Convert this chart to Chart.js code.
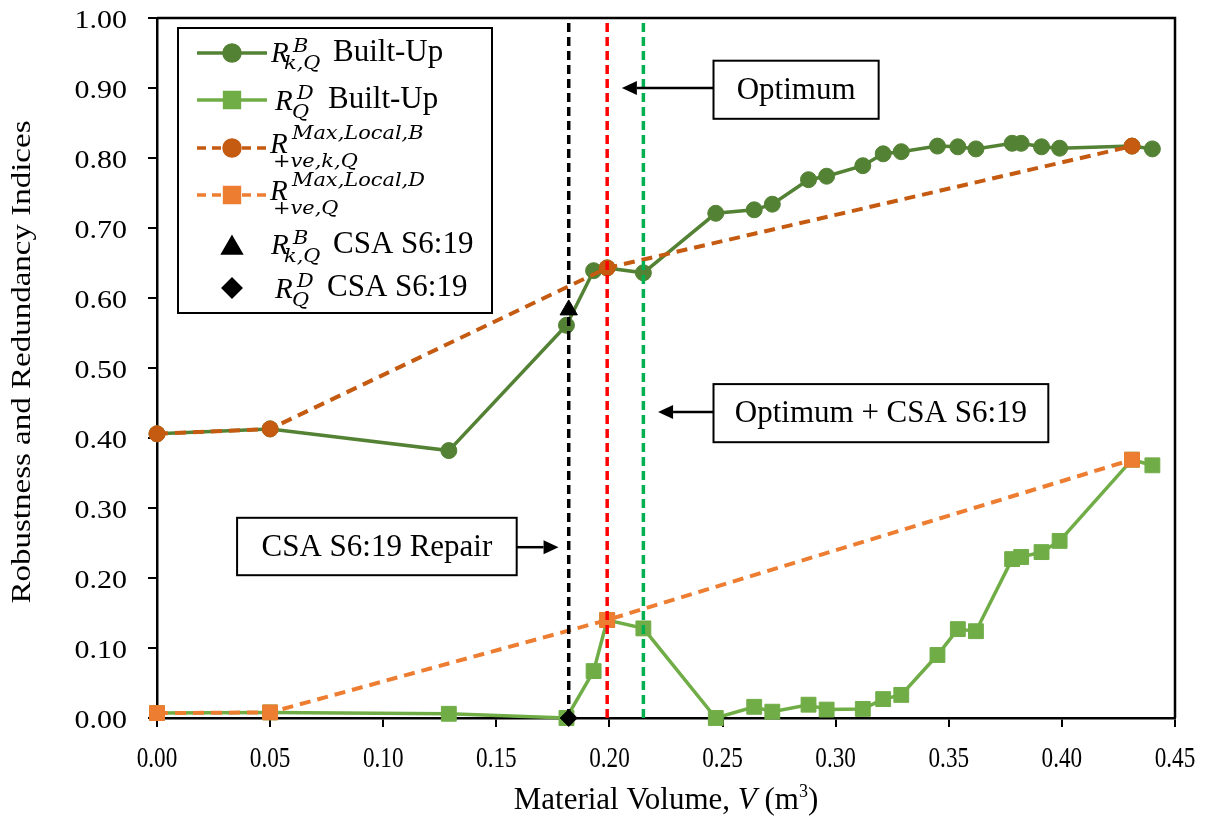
<!DOCTYPE html>
<html>
<head>
<meta charset="utf-8">
<script src="https://cdn.jsdelivr.net/npm/chart.js@4.4.1/dist/chart.umd.min.js"></script>
<style>
  html, body { margin: 0; padding: 0; background: #fff; }
  #wrap { width: 1212px; height: 820px; }
</style>
</head>
<body>
<div id="wrap"><canvas id="chart" width="1212" height="820"></canvas></div>
<script>
// ── Data ─────────────────────────────────────────────────────
const volume   = [0.000, 0.050, 0.129, 0.181, 0.193, 0.199, 0.215, 0.247, 0.264, 0.272, 0.288, 0.296,
                  0.312, 0.321, 0.329, 0.345, 0.354, 0.362, 0.378, 0.382, 0.391, 0.399, 0.431, 0.440];
const builtUpB = [0.406, 0.413, 0.382, 0.561, 0.639, 0.643, 0.636, 0.721, 0.726, 0.734, 0.769, 0.774,
                  0.789, 0.806, 0.809, 0.817, 0.816, 0.813, 0.821, 0.821, 0.816, 0.814, 0.817, 0.813];
const builtUpD = [0.007, 0.008, 0.006, 0.000, 0.067, 0.140, 0.128, 0.000, 0.016, 0.009, 0.019, 0.012,
                  0.013, 0.027, 0.033, 0.090, 0.127, 0.124, 0.227, 0.230, 0.237, 0.253, 0.369, 0.361];

const envVolume = [0.000, 0.050, 0.199, 0.431];
const envB      = [0.406, 0.413, 0.643, 0.817];
const envD      = [0.007, 0.008, 0.140, 0.369];

const csaVolume = [0.182];
const csaB      = [0.583];
const csaD      = [0.000];

const repairVolume  = 0.182;
const optimumVolume = 0.199;
const optCsaVolume  = 0.215;

const xTickLabels = ['0.00','0.05','0.10','0.15','0.20','0.25','0.30','0.35','0.40','0.45'];
const yTickLabels = ['0.00','0.10','0.20','0.30','0.40','0.50','0.60','0.70','0.80','0.90','1.00'];

// ── Colours ──────────────────────────────────────────────────
const DARK_GREEN  = '#548235';
const LIGHT_GREEN = '#70AD47';
const DARK_ORANGE = '#C55A11';
const ORANGE      = '#ED7D31';
const SERIF = '"Liberation Serif", "Times New Roman", serif';

const pts = (xs, ys) => xs.map((x, i) => ({ x, y: ys[i] }));
const vline = x => [{ x, y: 0 }, { x, y: 1 }];

// scaled text: the source's axis text is stretched one way or the other
function scaledText(ctx, txt, x, y, font, sx, sy, align) {
  ctx.save();
  ctx.translate(x, y);
  ctx.scale(sx, sy);
  ctx.font = font;
  ctx.textAlign = align;
  ctx.textBaseline = 'alphabetic';
  ctx.fillText(txt, 0, 0);
  ctx.restore();
}

function arrow(ctx, x1, y1, x2, y2) {
  const a = Math.atan2(y2 - y1, x2 - x1), L = 15, W = 7;
  ctx.beginPath();
  ctx.moveTo(x1, y1);
  ctx.lineTo(x2 - L * Math.cos(a), y2 - L * Math.sin(a));
  ctx.stroke();
  ctx.beginPath();
  ctx.moveTo(x2, y2);
  ctx.lineTo(x2 - L * Math.cos(a) + W * Math.sin(a), y2 - L * Math.sin(a) - W * Math.cos(a));
  ctx.lineTo(x2 - L * Math.cos(a) - W * Math.sin(a), y2 - L * Math.sin(a) + W * Math.cos(a));
  ctx.closePath();
  ctx.fill();
}

// ── Decorations: frame, ticks text, titles, callouts, legend ──
const decor = {
  id: 'decor',
  afterDraw(chart) {
    const { ctx, chartArea: ca, scales: { x, y } } = chart;
    ctx.save();
    ctx.fillStyle = '#000';
    ctx.strokeStyle = '#000';

    // plot frame (top + right)
    ctx.lineWidth = 2.5;
    ctx.beginPath();
    ctx.moveTo(ca.left, ca.top); ctx.lineTo(ca.right, ca.top); ctx.lineTo(ca.right, ca.bottom);
    ctx.stroke();

    // tick labels
    xTickLabels.forEach(t => scaledText(ctx, t, x.getPixelForValue(parseFloat(t)), 767, '29px ' + SERIF, 0.8, 1, 'center'));
    yTickLabels.forEach(t => scaledText(ctx, t, 127, y.getPixelForValue(parseFloat(t)) + 10, '30px ' + SERIF, 1, 0.85, 'right'));

    // x title: Material Volume, V (m3)
    const xt = [
      ['Material Volume, ', '31px ' + SERIF, 0],
      ['V', 'italic 31px ' + SERIF, 0],
      [' (m', '31px ' + SERIF, 0],
      ['3', '18px ' + SERIF, -12],
      [')', '31px ' + SERIF, 0],
    ];
    let tw = 0;
    xt.forEach(p => { ctx.font = p[1]; tw += ctx.measureText(p[0]).width; });
    let cx = (ca.left + ca.right) / 2 - tw / 2;
    xt.forEach(p => {
      scaledText(ctx, p[0], cx, 809 + p[2], p[1], 1, 1, 'left');
      ctx.font = p[1]; cx += ctx.measureText(p[0]).width;
    });

    // y title (rotated)
    ctx.save();
    ctx.translate(30, (ca.top + ca.bottom) / 2 - 6);
    ctx.rotate(-Math.PI / 2);
    ctx.scale(1, 0.82);
    ctx.font = '33px ' + SERIF;
    ctx.textAlign = 'center';
    ctx.fillText('Robustness and Redundancy Indices', 0, 0);
    ctx.restore();

    // callout boxes with arrows (value space)
    const boxes = [
      { text: 'Optimum',             x0: 0.246, x1: 0.319, y0: 0.856, y1: 0.939, ay: 0.900, from: 0.246, to: 0.2055 },
      { text: 'Optimum + CSA S6:19', x0: 0.246, x1: 0.394, y0: 0.394, y1: 0.477, ay: 0.437, from: 0.246, to: 0.2215 },
      { text: 'CSA S6:19 Repair',    x0: 0.0354, x1: 0.159, y0: 0.204, y1: 0.286, ay: 0.244, from: 0.159, to: 0.1775 },
    ];
    boxes.forEach(b => {
      const L = x.getPixelForValue(b.x0), R = x.getPixelForValue(b.x1);
      const T = y.getPixelForValue(b.y1), B = y.getPixelForValue(b.y0);
      ctx.fillStyle = '#fff';
      ctx.fillRect(L, T, R - L, B - T);
      ctx.fillStyle = '#000';
      ctx.lineWidth = 2;
      ctx.strokeRect(L, T, R - L, B - T);
      ctx.font = '31px ' + SERIF;
      ctx.textAlign = 'center';
      ctx.textBaseline = 'middle';
      ctx.fillText(b.text, (L + R) / 2, (T + B) / 2 + 1);
      ctx.lineWidth = 2.5;
      const ay = y.getPixelForValue(b.ay);
      arrow(ctx, x.getPixelForValue(b.from), ay, x.getPixelForValue(b.to), ay);
    });

    // legend
    const lx0 = 178, ly0 = 28, lx1 = 492, ly1 = 313;
    ctx.fillStyle = '#fff';
    ctx.fillRect(lx0, ly0, lx1 - lx0, ly1 - ly0);
    ctx.lineWidth = 2;
    ctx.strokeStyle = '#000';
    ctx.strokeRect(lx0, ly0, lx1 - lx0, ly1 - ly0);

    const rows = [
      { y: 53,  color: DARK_GREEN,  dash: [],     line: true,  style: 'circle',   r: 8,    rx: 271, base: 62,  sup: 'B', supX: 293, supY: 52, sub: 'k,Q', subX: 284, subY: 69, tail: 'Built-Up', tailX: 333 },
      { y: 100, color: LIGHT_GREEN, dash: [],     line: true,  style: 'rect',     r: 10.5, rx: 275, base: 110, sup: 'D', supX: 297, supY: 99, sub: 'Q', subX: 292, subY: 118, tail: 'Built-Up', tailX: 328 },
      { y: 148, color: DARK_ORANGE, dash: [9, 6], line: true,  style: 'circle',   r: 8,    rx: 270, base: 153, sup: 'Max,Local,B', supX: 292, supY: 139, sub: '+ve,k,Q', subX: 273, subY: 167 },
      { y: 195, color: ORANGE,      dash: [9, 6], line: true,  style: 'rect',     r: 10.5, rx: 270, base: 200, sup: 'Max,Local,D', supX: 292, supY: 186, sub: '+ve,Q', subX: 273, subY: 214 },
      { y: 245, color: '#000',      dash: [],     line: false, style: 'triangle', r: 10,   rx: 271, base: 254, sup: 'B', supX: 293, supY: 244, sub: 'k,Q', subX: 284, subY: 262, tail: 'CSA S6:19', tailX: 333 },
      { y: 288, color: '#000',      dash: [],     line: false, style: 'rectRot',  r: 8.5,  rx: 275, base: 298, sup: 'D', supX: 297, supY: 287, sub: 'Q', subX: 292, subY: 306, tail: 'CSA S6:19', tailX: 327 },
    ];
    rows.forEach(r => {
      ctx.strokeStyle = r.color;
      ctx.fillStyle = r.color;
      if (r.line) {
        ctx.lineWidth = 3.5;
        ctx.setLineDash(r.dash);
        ctx.beginPath(); ctx.moveTo(197, r.y); ctx.lineTo(267, r.y); ctx.stroke();
        ctx.setLineDash([]);
      }
      const my = r.style === 'triangle' ? r.y + 3 : r.y;
      Chart.helpers.drawPoint(ctx, { pointStyle: r.style, radius: r.r, rotation: 0, borderWidth: 1 }, 232, my);
      ctx.fill();

      ctx.fillStyle = '#000';
      ctx.textAlign = 'left';
      ctx.textBaseline = 'alphabetic';
      ctx.font = 'italic 29px ' + SERIF;
      ctx.fillText('R', r.rx, r.base);
      scaledText(ctx, r.sup, r.supX, r.supY, 'italic 19px "DejaVu Serif", serif', 1.1, 1, 'left');
      scaledText(ctx, r.sub, r.subX, r.subY, 'italic 19px "DejaVu Serif", serif', 1.1, 1, 'left');
      if (r.tail) {
        ctx.font = '31px ' + SERIF;
        ctx.fillText(r.tail, r.tailX, r.y + 8);
      }
    });
    ctx.restore();
  }
};

const vlineStyle = color => ({
  type: 'scatter', showLine: true, borderColor: color, borderWidth: 3.5,
  borderDash: [9, 5], pointRadius: 0, clip: false, order: 3,
});

new Chart(document.getElementById('chart'), {
  type: 'scatter',
  data: {
    datasets: [
      { data: pts(csaVolume, csaD), pointStyle: 'rectRot', pointRadius: 8.5, backgroundColor: '#000', borderColor: '#000', borderWidth: 1, clip: false, order: 1 },
      { data: pts(csaVolume, csaB), pointStyle: 'triangle', pointRadius: 10, backgroundColor: '#000', borderColor: '#000', borderWidth: 1, clip: false, order: 2 },
      { data: vline(repairVolume),  ...vlineStyle('#000000') },
      { data: vline(optimumVolume), ...vlineStyle('#FF0000') },
      { data: vline(optCsaVolume),  ...vlineStyle('#00B050') },
      { data: pts(envVolume, envD), showLine: true, borderColor: ORANGE, borderWidth: 4, borderDash: [11, 7],
        pointStyle: 'rect', pointRadius: 10.5, pointBackgroundColor: ORANGE, pointBorderColor: ORANGE, pointBorderWidth: 1, clip: false, order: 4 },
      { data: pts(envVolume, envB), showLine: true, borderColor: DARK_ORANGE, borderWidth: 4, borderDash: [11, 7],
        pointStyle: 'circle', pointRadius: 8, pointBackgroundColor: DARK_ORANGE, pointBorderColor: DARK_ORANGE, pointBorderWidth: 1, clip: false, order: 5 },
      { data: pts(volume, builtUpD), showLine: true, borderColor: LIGHT_GREEN, borderWidth: 3.5,
        pointStyle: 'rect', pointRadius: 10.5, pointBackgroundColor: LIGHT_GREEN, pointBorderColor: LIGHT_GREEN, pointBorderWidth: 1, clip: false, order: 6 },
      { data: pts(volume, builtUpB), showLine: true, borderColor: DARK_GREEN, borderWidth: 3.5,
        pointStyle: 'circle', pointRadius: 8, pointBackgroundColor: DARK_GREEN, pointBorderColor: DARK_GREEN, pointBorderWidth: 1, clip: false, order: 7 },
    ],
  },
  options: {
    responsive: false,
    animation: false,
    devicePixelRatio: 1,
    layout: { padding: { top: 18, right: 37, left: 0, bottom: 0 } },
    plugins: { legend: { display: false }, tooltip: { enabled: false } },
    elements: { line: { tension: 0 } },
    scales: {
      x: {
        type: 'linear', min: 0, max: 0.45,
        ticks: { stepSize: 0.05, display: false },
        grid: { drawOnChartArea: false, drawTicks: true, tickLength: 9, color: '#000', lineWidth: 2 },
        border: { display: true, color: '#000', width: 2.5 },
        afterFit: s => { s.height = 102; },
      },
      y: {
        type: 'linear', min: 0, max: 1,
        ticks: { stepSize: 0.1, display: false },
        grid: { drawOnChartArea: false, drawTicks: true, tickLength: 9, color: '#000', lineWidth: 2 },
        border: { display: true, color: '#000', width: 2.5 },
        afterFit: s => { s.width = 157; },
      },
    },
  },
  plugins: [decor],
});
</script>
</body>
</html>
